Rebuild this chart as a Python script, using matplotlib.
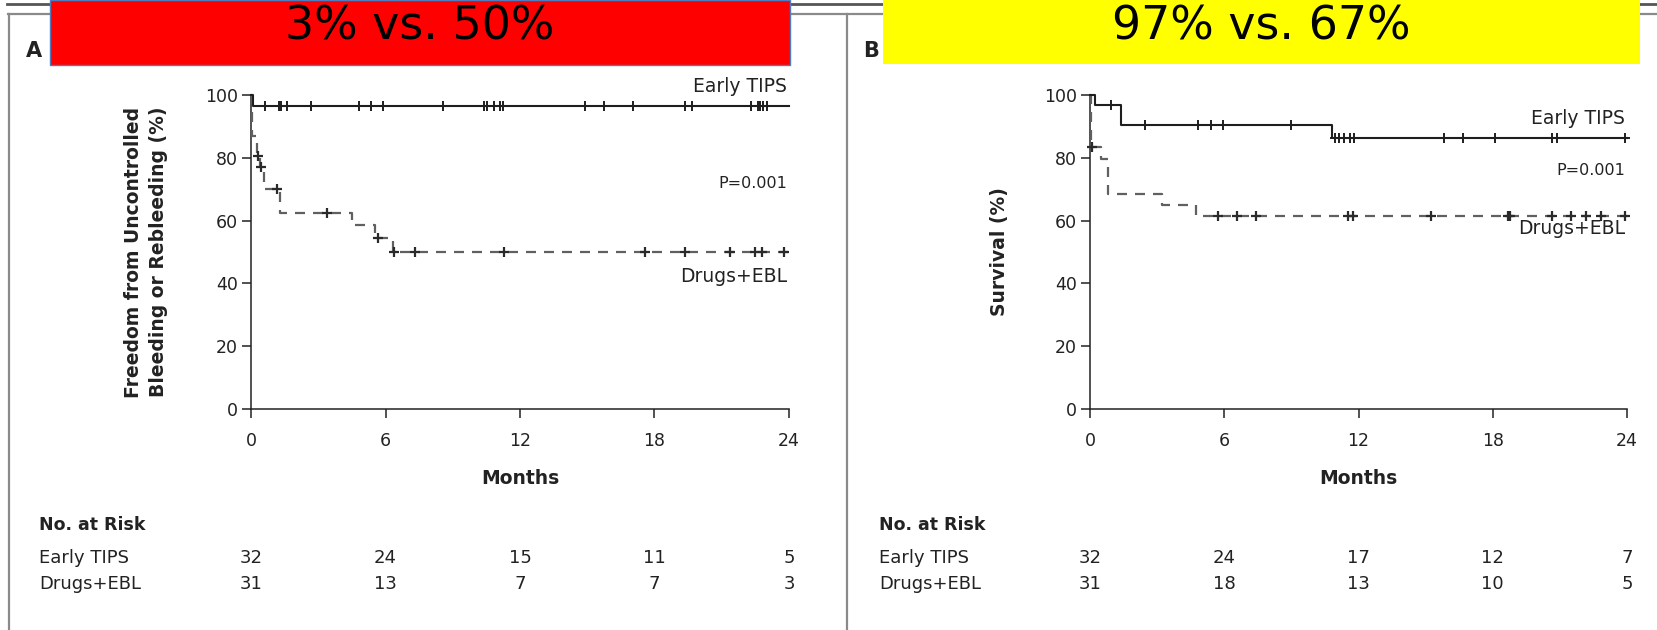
import numpy as np
import matplotlib.pyplot as plt
import matplotlib.transforms as mtransforms
from matplotlib.patches import Rectangle
from matplotlib.lines import Line2D

plt.rcParams['font.family'] = ['DejaVu Sans']

W, H = 1657, 630

month_ticks = [0, 6, 12, 18, 24]
pct_ticks = [0, 20, 40, 60, 80, 100]

# panel A - freedom from uncontrolled bleeding or rebleeding
a_tips_t = [0, 0.1, 24]
a_tips_s = [100, 96.5, 96.5]
a_tips_cens = [0.61, 1.27, 1.33, 1.60, 2.69, 4.83, 5.35, 5.88, 8.56, 10.41, 10.52,
               10.85, 11.09, 11.25, 14.88, 15.76, 17.02, 19.38, 19.69, 22.29, 22.6,
               22.72, 22.84, 23.04]
a_ebl_t = [0, 0.05, 0.27, 0.40, 0.58, 1.29, 4.49, 5.53, 6.32, 24]
a_ebl_s = [100, 87, 80.5, 77, 70, 62.5, 58.5, 54.5, 50, 50]
a_ebl_cens = [0.33, 0.43, 1.15, 3.38, 5.65, 6.38, 7.31, 11.29, 17.59, 19.38, 21.37,
              22.49, 22.8, 23.76]
a_risk_tips = [32, 24, 15, 11, 5]
a_risk_ebl = [31, 13, 7, 7, 3]

# panel B - survival
b_tips_t = [0, 0.22, 1.4, 10.8, 24]
b_tips_s = [100, 96.9, 90.4, 86.2, 86.2]
b_tips_cens = [0.94, 2.45, 4.84, 5.42, 5.96, 8.97, 10.94, 11.11, 11.36, 11.61, 11.81,
               15.82, 16.69, 18.08, 20.67, 20.87, 23.93]
b_ebl_t = [0, 0.03, 0.5, 0.82, 3.2, 4.72, 24]
b_ebl_s = [100, 83.5, 79.5, 68.5, 65, 61.5, 61.5]
b_ebl_cens = [0.08, 5.71, 6.58, 7.41, 11.55, 11.76, 15.24, 18.66, 18.75, 20.67, 21.5,
              22.17, 22.84, 23.93]
b_risk_tips = [32, 24, 17, 12, 7]
b_risk_ebl = [31, 18, 13, 10, 5]

groups = ['Early TIPS', 'Drugs+EBL']


def fx(x):
    return x / W


def fy(y):
    return 1 - y / H


def at(t, times, surv):
    i = np.searchsorted(times, t, side='right') - 1
    return np.asarray(surv)[i]


fig = plt.figure(figsize=(W / 100, H / 100), dpi=100)
fig.patch.set_facecolor('white')


def panel(x0, x1, tips, ebl, risk, ylabel, ylab_x, lab_y, letter, letter_x, risk_x):
    ax = fig.add_axes([fx(x0), fy(409), fx(x1) - fx(x0), fy(95) - fy(409)])
    t, s, c = tips
    ax.step(t, s, where='post', color='#1e1e1e', lw=1.5, clip_on=False, zorder=4)
    ax.plot(c, at(c, t, s), ls='none', marker='+', ms=7, mew=1.4, color='#1e1e1e',
            clip_on=False, zorder=5)
    t, s, c = ebl
    ax.step(t, s, where='post', color='#606060', lw=1.6, ls=(0, (4.5, 3.6)),
            clip_on=False, zorder=3)
    ax.plot(c, at(c, t, s), ls='none', marker='+', ms=7.5, mew=1.6, color='#2a2a2a',
            clip_on=False, zorder=5)

    ax.set_xlim(0, 24)
    ax.set_ylim(0, 100)
    ax.set_xticks(month_ticks)
    ax.set_yticks(pct_ticks)
    for sp in ['top', 'right']:
        ax.spines[sp].set_visible(False)
    for sp in ['left', 'bottom']:
        ax.spines[sp].set_linewidth(1.1)
        ax.spines[sp].set_color('#222222')
    ax.tick_params(direction='out', length=6.5, width=1.1, color='#222222',
                   labelsize=12.5, labelcolor='#222222', pad=3)
    ax.tick_params(axis='x', pad=10)

    ax_fig = mtransforms.blended_transform_factory(ax.transAxes, fig.transFigure)
    ax.text(0.5, fy(479), 'Months', transform=ax_fig, ha='center', va='center',
            fontsize=13.5, fontweight='bold', color='#222222')

    fig.text(fx(ylab_x), fy(252), ylabel, rotation=90, ha='center', va='center',
             fontsize=13.5, fontweight='bold', color='#222222', linespacing=1.35)

    for name, y in zip(['Early TIPS', 'P=0.001', 'Drugs+EBL'], lab_y):
        fig.text(fx(x1 - 2), fy(y), name, ha='right', va='center',
                 fontsize=11.5 if name.startswith('P') else 13.5, color='#222222')

    fig.text(fx(letter_x), fy(51), letter, ha='center', va='center', fontsize=15,
             fontweight='bold', color='#222222')

    # numbers at risk
    tr = mtransforms.blended_transform_factory(ax.transData, fig.transFigure)
    fig.text(fx(risk_x), fy(525), 'No. at Risk', ha='left', va='center',
             fontsize=12.5, fontweight='bold', color='#222222')
    for g, row, y in zip(groups, risk, [558, 584]):
        fig.text(fx(risk_x), fy(y), g, ha='left', va='center', fontsize=13,
                 color='#222222')
        for m, n in zip(month_ticks, row):
            ax.text(m, fy(y), str(n), transform=tr, ha='center', va='center',
                    fontsize=13, color='#222222')
    return ax


panel(251, 789, (a_tips_t, a_tips_s, a_tips_cens), (a_ebl_t, a_ebl_s, a_ebl_cens),
      (a_risk_tips, a_risk_ebl),
      'Freedom from Uncontrolled\nBleeding or Rebleeding (%)', 146,
      [87, 183, 277], 'A', 34, 39)
panel(1090, 1627, (b_tips_t, b_tips_s, b_tips_cens), (b_ebl_t, b_ebl_s, b_ebl_cens),
      (b_risk_tips, b_risk_ebl),
      'Survival (%)', 999,
      [119, 171, 229], 'B', 871, 879)

# frame lines
fig.add_artist(Line2D([fx(7), fx(1657)], [fy(4), fy(4)], color='#555555', lw=2))
fig.add_artist(Line2D([fx(8), fx(1657)], [fy(14), fy(14)], color='#8a8a8a', lw=1.6))
fig.add_artist(Line2D([fx(9), fx(9)], [fy(14), fy(630)], color='#8a8a8a', lw=1.6))
fig.add_artist(Line2D([fx(847), fx(847)], [fy(14), fy(630)], color='#8a8a8a', lw=1.6))

# highlight boxes
fig.add_artist(Rectangle((fx(50), fy(65)), fx(790) - fx(50), 65 / H,
                         facecolor='#ff0000', edgecolor='#4f7bbf', lw=1, zorder=10))
fig.add_artist(Rectangle((fx(883), fy(64)), fx(1640) - fx(883), 64 / H,
                         facecolor='#ffff00', edgecolor='none', zorder=10))
fig.text(fx(420), fy(40), '3% vs. 50%', ha='center', va='baseline', fontsize=33,
         color='black', zorder=11)
fig.text(fx(1261), fy(40), '97% vs. 67%', ha='center', va='baseline', fontsize=33,
         color='black', zorder=11)

fig.savefig('out.png', dpi=100)
